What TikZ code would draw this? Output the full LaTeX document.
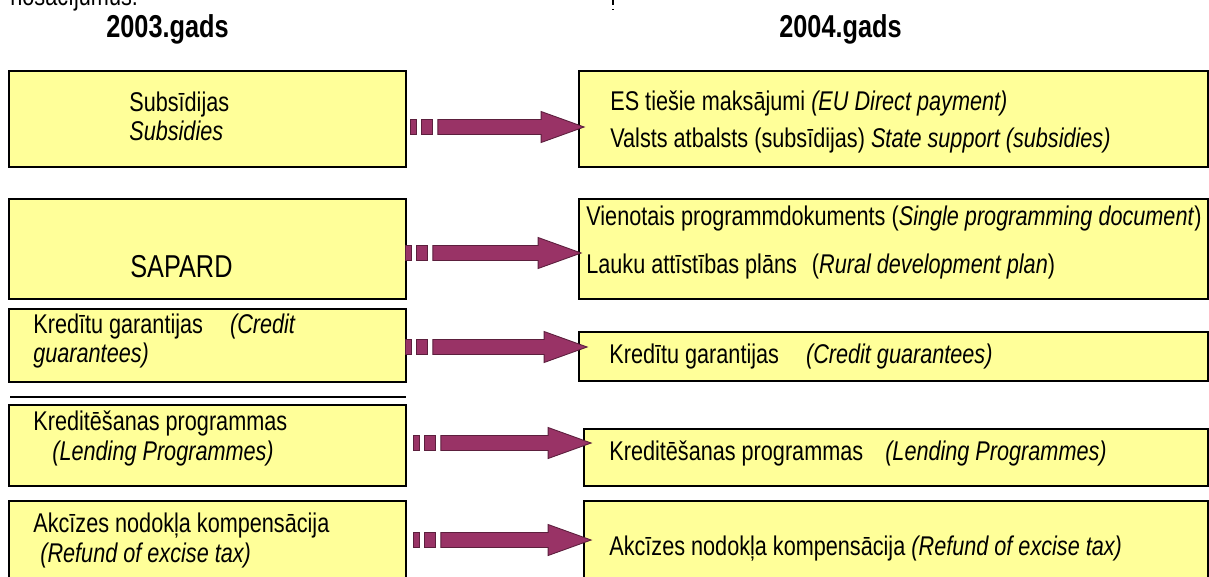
\documentclass[tikz,border=0pt]{standalone}
\usepackage{fontspec}
\setmainfont{Liberation Sans}[FakeStretch=0.8]
\usetikzlibrary{calc}
\definecolor{NoteYellow}{HTML}{FFFF99}
\definecolor{ShiftPurple}{HTML}{993366}
\newcommand{\eng}[1]{\textit{#1}}

\begin{document}
\begin{tikzpicture}[
    x=0.2mm, y=-0.2mm,
    box/.style={rectangle, draw=black, line width=1pt, fill=NoteYellow, inner sep=0pt},
    oldbox/.style={box, minimum width=79.4mm},
    newbox/.style={box, minimum width=125.8mm},
    txt/.style={anchor=base west, inner sep=0pt, font=\fontsize{15.4}{18}\selectfont},
    head/.style={anchor=base west, inner sep=0pt, font=\fontsize{18}{21}\selectfont\bfseries},
    sq/.style={fill=ShiftPurple, draw=ShiftPurple!60!black, line width=0.5pt}
]
\useasboundingbox (0,0) rectangle (1209,576);

% cut-off text and mark at the top
\node[txt] (note) at (10,5) {nosacījumus:};
\coordinate (mtop) at (613,0);
\coordinate (mbot) at (613,10);
\draw[densely dashed, line width=0.8pt] (mtop) -- (mbot);

\node[head] (y2003) at (106,37) {2003.gads};
\node[head] (y2004) at (779,37) {2004.gads};

% 2003 column
\node[oldbox, minimum height=19.2mm] (old1) at (207.5,119) {};
\node[oldbox, minimum height=20mm] (old2) at (207.5,249) {};
\node[oldbox, minimum height=14.6mm] (old3) at (207.5,345.5) {};
\node[oldbox, minimum height=16.2mm] (old4) at (207.5,445.5) {};
\node[oldbox, minimum height=17.8mm] (old5) at (207.5,545.5) {};
\coordinate (sepl) at (10,397);
\coordinate (sepr) at (406,397);
\draw[line width=1.2pt] (sepl) -- (sepr);

% 2004 column
\node[newbox, minimum height=19.2mm] (new1) at (893.5,119) {};
\node[newbox, minimum height=20mm] (new2) at (893.5,249) {};
\node[newbox, minimum height=9.8mm] (new3) at (893.5,356.5) {};
\node[newbox, minimum width=124.8mm, minimum height=11.4mm] (new4) at (896,457.5) {};
\node[newbox, minimum width=124.8mm, minimum height=17.8mm] (new5) at (896,545.5) {};

% texts 2003
\node[txt] (t1a) at (129,111) {Subsīdijas};
\node[txt] (t1b) at (129,140) {\eng{Subsidies}};
\node[txt, font=\fontsize{18}{21}\selectfont] (t2a) at (130,277) {SAPARD};
\node[txt] (t3a) at (33,333) {Kredītu garantijas\hspace{5.4mm}\eng{(Credit}};
\node[txt] (t3b) at (33,362) {\eng{guarantees)}};
\node[txt] (t4a) at (33,430) {Kreditēšanas programmas};
\node[txt] (t4b) at (52,460) {\eng{(Lending Programmes)}};
\node[txt] (t5a) at (33,532) {Akcīzes nodokļa kompensācija};
\node[txt] (t5b) at (40,562) {\eng{(Refund of excise tax)}};

% texts 2004
\node[txt] (u1a) at (610,110) {ES tiešie maksājumi \eng{(EU Direct payment)}};
\node[txt] (u1b) at (610,147) {Valsts atbalsts (subsīdijas) \eng{State support (subsidies)}};
\node[txt] (u2a) at (586,225) {Vienotais programmdokuments (\eng{Single programming document})};
\node[txt] (u2b) at (586,273) {Lauku attīstības plāns\hspace{3mm}(\eng{Rural development plan})};
\node[txt] (u3a) at (609,363) {Kredītu garantijas\hspace{5.4mm}\eng{(Credit guarantees)}};
\node[txt] (u4a) at (609,460) {Kreditēšanas programmas\hspace{4.4mm}\eng{(Lending Programmes)}};
\node[txt] (u5a) at (609,555) {Akcīzes nodokļa kompensācija \eng{(Refund of excise tax)}};

% block arrows from 2003 to 2004
\foreach \a/\b/\y/\ds/\dt in {old1/new1/127/4/6, old2/new2/253/-1/3, old3/new3/347/-1/9,
                              old4/new4/443/7/8, old5/new5/540/7/8}{
  \coordinate (yref) at (0,\y);
  \coordinate (st) at ($(\a.east |- yref)+(\ds,0)$);
  \coordinate (tp) at ($(\b.west |- yref)+(\dt,0)$);
  \draw[sq] ($(st)+(0,-7.5)$) rectangle ($(st)+(6,7.5)$);
  \draw[sq] ($(st)+(11,-7.5)$) rectangle ($(st)+(22,7.5)$);
  \draw[sq] ($(st)+(27,-7.5)$) -- ($(tp)+(-43,-7.5)$) -- ($(tp)+(-43,-15.5)$) -- (tp)
    -- ($(tp)+(-43,15.5)$) -- ($(tp)+(-43,7.5)$) -- ($(st)+(27,7.5)$) -- cycle;
}

\end{tikzpicture}
\end{document}
